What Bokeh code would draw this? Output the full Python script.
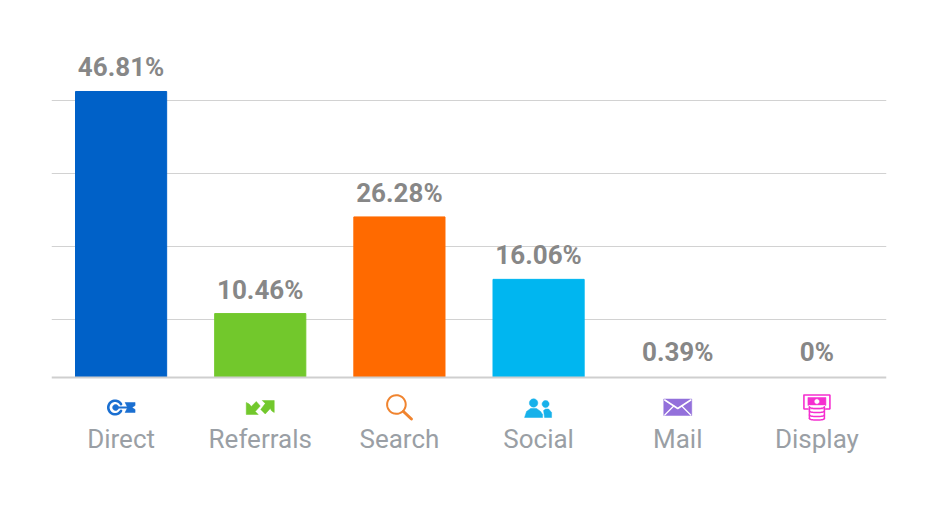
import numpy as np
from bokeh.plotting import figure
from bokeh.models import FixedTicker, Span
from bokeh.core.properties import value
from bokeh.embed import file_html
from bokeh.resources import INLINE

categories = ["Direct", "Referrals", "Search", "Social", "Mail", "Display"]
shares = [46.81, 10.46, 26.28, 16.06, 0.39, 0.0]
labels = ["46.81%", "10.46%", "26.28%", "16.06%", "0.39%", "0%"]
colors = ["#0061c8", "#72c82c", "#ff6a00", "#00b6f0", "#ffffff", "#ffffff"]
label_offsets = [-9, -9, -9, -9, -8, -11]
grid_values = [9.5, 21.45, 33.4, 45.35]

PX_PER_UNIT = 6.11
BASE_PX = 377.0
LEFT, RIGHT, TOP, BOTTOM = 51, 886, 30, 425
W, H = 921, 509

p = figure(x_range=categories, width=W, height=H, output_backend="svg",
           toolbar_location=None,
           y_range=((BASE_PX - BOTTOM) / PX_PER_UNIT, (BASE_PX - TOP) / PX_PER_UNIT),
           min_border_left=LEFT, min_border_right=W - RIGHT,
           min_border_top=TOP, min_border_bottom=H - BOTTOM)
p.outline_line_color = None
p.background_fill_color = "white"
p.border_fill_color = "white"
p.xgrid.visible = False
p.yaxis.visible = False
p.ygrid.ticker = FixedTicker(ticks=grid_values)
p.ygrid.grid_line_color = "#d2d2d2"
p.ygrid.grid_line_width = 1

ax = p.xaxis[0]
ax.axis_line_color = None
ax.major_tick_line_color = None
ax.minor_tick_line_color = None
ax.major_label_text_font = "Roboto"
ax.major_label_text_font_size = "26px"
ax.major_label_text_color = "#9a9fa5"
ax.major_label_standoff = -8
ax.major_label_text_font_style = "normal"

p.vbar(x=categories, top=shares, bottom=0, width=0.655, color=colors)
p.add_layout(Span(location=0, dimension="width", line_color="#cfcfcf", line_width=2))

p.text(x=categories, y=shares, text=labels, text_align="center", text_baseline="bottom",
       y_offset=label_offsets, text_font=value("Roboto"), text_font_style="bold",
       text_font_size="26px", text_color="#878787")


# Icons: drawn from pixel offsets around each category's centre
def dx(cat, ox):
    return [(cat, float(v) / 139.17) for v in ox]


def dy(py):
    return [(BASE_PX - float(v)) / PX_PER_UNIT for v in py]


def poly(cat, xs, ys, color):
    p.patch(dx(cat, xs), dy(ys), fill_color=color, line_color=color, line_width=0.5)


def line(cat, xs, ys, color, w=2.0):
    p.line(dx(cat, xs), dy(ys), line_color=color, line_width=w, line_cap="round")


def arc(cx, cy, r, a0=0.0, a1=2 * np.pi):
    t = np.linspace(a0, a1, 40)
    return cx + r * np.cos(t), cy + r * np.sin(t)


# Direct
c = "#1a6fd1"
xs, ys = arc(-6, 407, 6.8, 0.5, 2 * np.pi - 0.5)
line("Direct", xs, ys, c, 2.6)
xs, ys = arc(-5.5, 407, 3)
poly("Direct", xs, ys, c)
line("Direct", [-5, 8], [407, 407], c, 2.2)
poly("Direct", [4, 14, 14, 11, 14, 14, 4, 6.5], [402, 402, 405, 407, 409, 412, 412, 407], c)

# Referrals
c = "#72c82c"
poly("Referrals", [-14, -14, -2, -5, 0, -4, -9, -11],
     [402, 414, 414, 411, 405.5, 401, 406, 403.5], c)
poly("Referrals", [14, 14, 2, 5, 0.5, 5, 10, 11.5],
     [412, 400, 400, 403, 409, 413.5, 408, 410.5], c)

# Search
c = "#f0842f"
xs, ys = arc(-3, 404, 9.3)
line("Search", xs, ys, c, 2)
line("Search", [4, 12], [411, 418.5], c, 3)

# Social
c = "#17b1ea"
xs, ys = arc(-5, 402.5, 4.2)
poly("Social", xs, ys, c)
poly("Social", [-14, -12, -8, -2, 2, 4, 4, -14], [417, 411, 408, 408, 411, 414, 417, 417], c)
xs, ys = arc(7, 403.5, 3.5)
poly("Social", xs, ys, c)
poly("Social", [6, 5, 7, 10, 13, 13, 6], [417, 410, 408.5, 408.5, 412, 417, 417], c)

# Mail
c = "#9370db"
poly("Mail", [-14, 14, 14, -14], [398.5, 398.5, 415, 415], c)
line("Mail", [-13, 0, 13], [399.5, 408, 399.5], "white", 1.6)
line("Mail", [-13, -4], [414.5, 405.5], "white", 1.2)
line("Mail", [13, 4], [414.5, 405.5], "white", 1.2)

# Display
c = "#f52fd0"
line("Display", [-13, 13, 13, -13, -13], [394.5, 394.5, 408.5, 408.5, 394.5], c, 1.6)
poly("Display", [-9, 9, 9, -9], [397, 397, 405, 405], c)
xs, ys = arc(0, 401, 2.2)
poly("Display", xs, ys, "white")
poly("Display", [-8, 8, 8, -8], [405, 405, 409, 409], "white")
t = np.linspace(0, np.pi, 20)
for y0 in (406.5, 410.5, 414.5, 418):
    line("Display", 7.5 * np.cos(t), y0 + 1.6 * np.sin(t), c, 1.5)
line("Display", [-7.5, -7.5], [406.5, 418], c, 1.5)
line("Display", [7.5, 7.5], [406.5, 418], c, 1.5)

open("out.html", "w").write(file_html(p, INLINE))
